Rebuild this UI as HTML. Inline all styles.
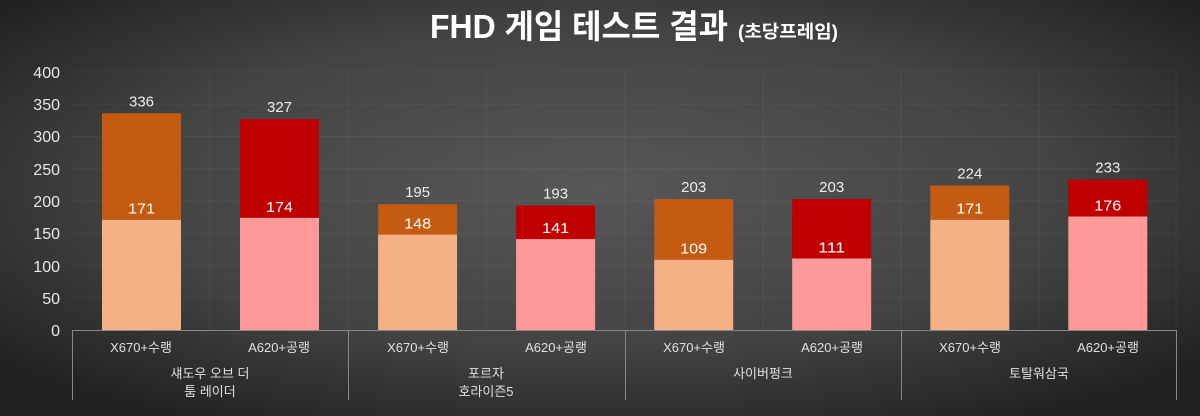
<!DOCTYPE html>
<html><head><meta charset="utf-8"><style>
html,body{margin:0;padding:0;}
body{width:1200px;height:416px;overflow:hidden;background:#333;}
svg{display:block;}
svg text{font-family:"Liberation Sans","Noto Sans CJK KR",sans-serif;}
</style></head><body>
<svg width="1200" height="416" viewBox="0 0 1200 416" xmlns="http://www.w3.org/2000/svg">
<defs>
<radialGradient id="bg" cx="50%" cy="45%" r="65%">
<stop offset="0" stop-color="#575757"/>
<stop offset="0.6" stop-color="#434343"/>
<stop offset="1" stop-color="#222"/>
</radialGradient>
</defs>
<rect width="1200" height="416" fill="url(#bg)"/>
<text x="430" y="38" font-size="33" font-weight="bold" fill="#fff" textLength="298" lengthAdjust="spacingAndGlyphs">FHD 게임 테스트 결과</text>
<text x="738" y="38" font-size="18" font-weight="bold" fill="#fff" textLength="100" lengthAdjust="spacingAndGlyphs">(초당프레임)</text>
<g stroke="#fff" stroke-opacity="0.05" stroke-width="1">
<line x1="72" x2="1176" y1="72" y2="72"/><line x1="72" x2="1176" y1="104.25" y2="104.25"/>
<line x1="72" x2="1176" y1="136.5" y2="136.5"/><line x1="72" x2="1176" y1="168.75" y2="168.75"/>
<line x1="72" x2="1176" y1="201" y2="201"/><line x1="72" x2="1176" y1="233.25" y2="233.25"/>
<line x1="72" x2="1176" y1="265.5" y2="265.5"/><line x1="72" x2="1176" y1="297.75" y2="297.75"/>
<line x1="210" x2="210" y1="72" y2="330"/><line x1="348" x2="348" y1="72" y2="330"/>
<line x1="486" x2="486" y1="72" y2="330"/><line x1="625" x2="625" y1="72" y2="330"/>
<line x1="763" x2="763" y1="72" y2="330"/><line x1="901" x2="901" y1="72" y2="330"/>
<line x1="1039" x2="1039" y1="72" y2="330"/><line x1="1176" x2="1176" y1="72" y2="330"/>
</g>
<g font-size="16" fill="#e8e8e8" text-anchor="end">
<text x="60" y="78">400</text><text x="60" y="110">350</text><text x="60" y="142">300</text>
<text x="60" y="175">250</text><text x="60" y="207">200</text><text x="60" y="239">150</text>
<text x="60" y="272">100</text><text x="60" y="304">50</text><text x="60" y="336">0</text>
</g>
<g id="bars"></g>
<g stroke="#888" stroke-width="1">
<line x1="72" x2="1176" y1="330.5" y2="330.5"/>
<line x1="72.5" x2="72.5" y1="330" y2="400"/><line x1="348.5" x2="348.5" y1="330" y2="400"/>
<line x1="625.5" x2="625.5" y1="330" y2="400"/><line x1="901.5" x2="901.5" y1="330" y2="400"/>
<line x1="1176.5" x2="1176.5" y1="330" y2="400"/>
</g>
<g font-size="13" fill="#e0e0e0" text-anchor="middle">
<text x="141" y="352">X670+수랭</text><text x="279" y="352">A620+공랭</text>
<text x="418" y="352">X670+수랭</text><text x="556" y="352">A620+공랭</text>
<text x="694" y="352">X670+수랭</text><text x="832" y="352">A620+공랭</text>
<text x="970" y="352">X670+수랭</text><text x="1108" y="352">A620+공랭</text>
<text x="210" y="378">섀도우 오브 더</text><text x="210" y="396">툼 레이더</text>
<text x="486" y="378">포르자</text><text x="486" y="396">호라이즌5</text>
<text x="763" y="378">사이버펑크</text><text x="1039" y="378">토탈워삼국</text>
</g>
</svg>
<script>
var d=[[171,336,174,327],[148,195,141,193],[109,203,111,203],[171,224,176,233]];
var g=document.getElementById('bars'),s='';
function y(v){return 330-v*0.645;}
d.forEach(function(r,i){
 var gx=72+i*276.1;
 [[r[0],r[1],gx+69.5,'#f4b183','#c55a11'],[r[2],r[3],gx+207.5,'#ff9999','#c00000']].forEach(function(b){
  var x=b[2]-39.5;
  s+='<rect x="'+x+'" y="'+y(b[0])+'" width="79" height="'+(b[0]*0.645)+'" fill="'+b[3]+'"/>';
  s+='<rect x="'+x+'" y="'+y(b[1])+'" width="79" height="'+((b[1]-b[0])*0.645)+'" fill="'+b[4]+'"/>';
  s+='<text x="'+b[2]+'" y="'+(y(b[0])-6)+'" font-size="15" fill="#fff" text-anchor="middle" textLength="27" lengthAdjust="spacingAndGlyphs">'+b[0]+'</text>';
  s+='<text x="'+b[2]+'" y="'+(y(b[1])-7)+'" font-size="15" fill="#eee" text-anchor="middle">'+b[1]+'</text>';
 });
});
g.innerHTML=s;
</script>
</body></html>
